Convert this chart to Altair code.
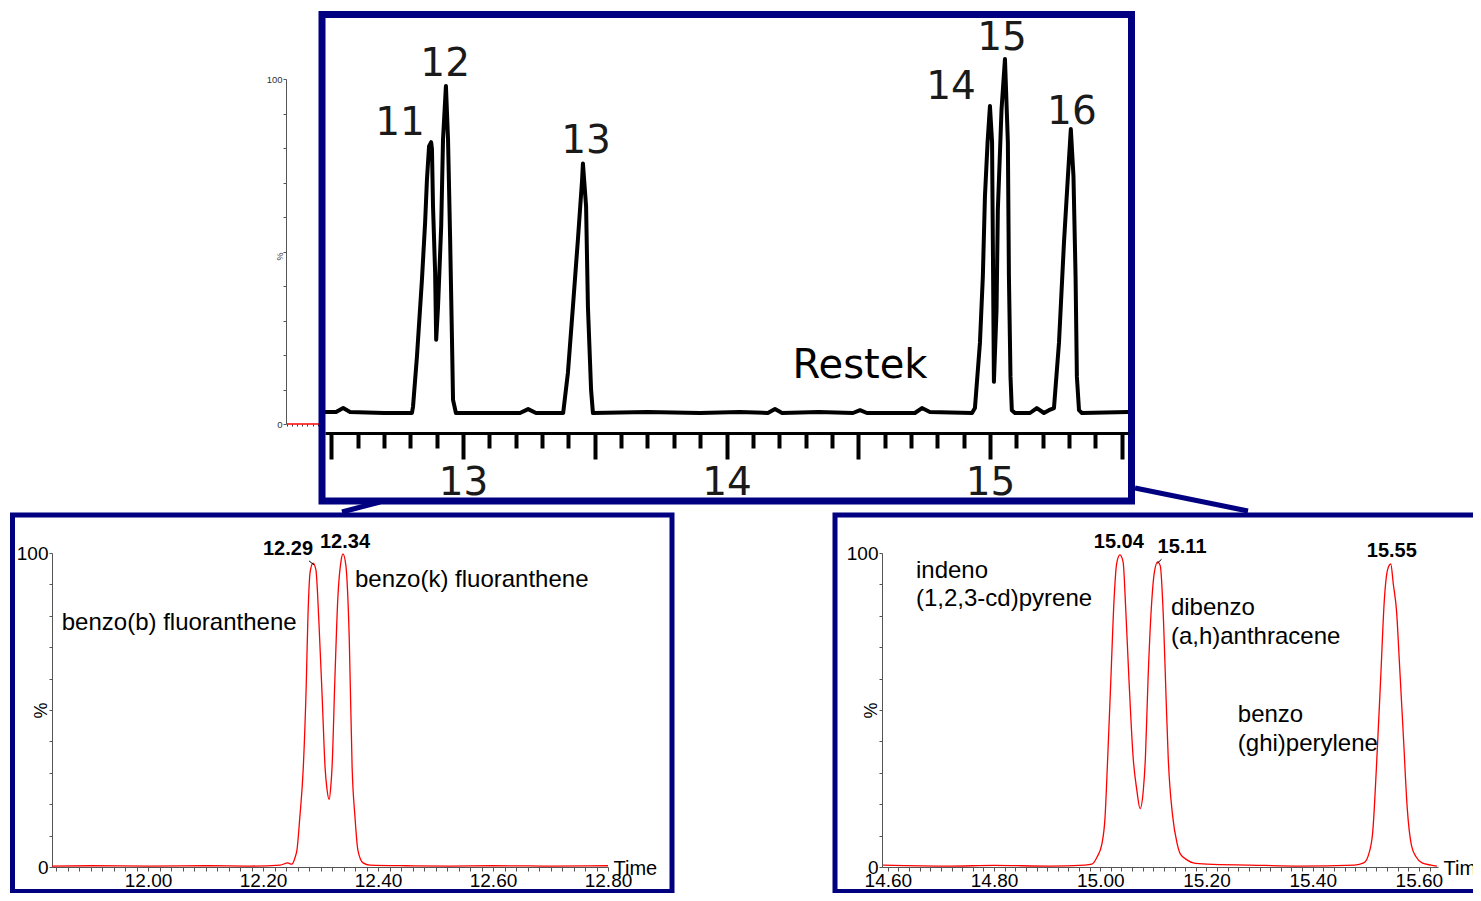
import altair as alt
import pandas as pd

NAVY = "#000080"
RED = "#ff0000"
W, H = 1465, 885

# ---------------- overview trace (top panel) ----------------
TOP_T = [12.476, 12.518, 12.545, 12.571, 12.700, 12.806, 12.810, 12.825, 12.844, 12.856,
         12.863, 12.871, 12.879, 12.882, 12.886, 12.894, 12.898, 12.905, 12.917, 12.924,
         12.935, 12.943, 12.951, 12.958, 12.962, 12.973, 13.100, 13.216, 13.247, 13.277,
         13.380, 13.398, 13.417, 13.436, 13.452, 13.455, 13.467, 13.474, 13.486, 13.493,
         13.700, 13.899, 14.050, 14.157, 14.184, 14.211, 14.350, 14.480, 14.507, 14.533,
         14.715, 14.742, 14.772, 14.932, 14.943, 14.962, 14.973, 14.981, 14.991, 15.000,
         15.008, 15.011, 15.015, 15.025, 15.030, 15.044, 15.057, 15.068, 15.072, 15.078,
         15.083, 15.095, 15.152, 15.178, 15.205, 15.224, 15.243, 15.262, 15.281, 15.296,
         15.307, 15.317, 15.325, 15.330, 15.338, 15.349, 15.524]
TOP_V = [0.3, 0.3, 1.4, 0.3, 0.0, 0.0, 1.7, 15.9, 37.7, 53.8,
         66.0, 75.4, 76.5, 74.5, 58.4, 39.7, 20.7, 30.0, 52.7, 77.3,
         92.4, 77.3, 49.0, 20.7, 3.7, 0.0, 0.0, 0.0, 1.1, 0.0,
         0.0, 11.3, 30.0, 49.0, 66.0, 70.5, 58.4, 30.0, 6.5, 0.0,
         0.3, 0.0, 0.3, 0.0, 1.1, 0.0, 0.3, 0.0, 0.8, 0.0,
         0.0, 1.4, 0.3, 0.0, 1.4, 19.8, 38.5, 61.2, 76.5, 86.7,
         76.5, 48.2, 8.8, 29.2, 57.5, 85.8, 100.0, 76.5, 38.5, 10.2,
         0.8, 0.0, 0.0, 1.4, 0.0, 0.8, 1.4, 19.8, 48.2, 66.9,
         80.2, 66.9, 38.5, 10.2, 0.8, 0.0, 0.3]
TOP_PEAK_NAMES = ["11", "12", "13", "14", "15", "16"]
TOP_PEAK_T = [12.761, 12.932, 13.467, 14.852, 15.046, 15.311]
TOP_PEAK_V = [82.0, 98.6, 76.8, 92.1, 106.0, 85.0]
TOP_BRAND = ["Restek"]
TOP_BRAND_T = [14.507]
TOP_BRAND_V = [13.3]
TOP_TICKS = [round(12.5 + 0.1 * i, 1) for i in range(31)]

# ---------------- zoomed trace 1 (bottom left) ----------------
LEFT_T = [11.833, 11.900, 12.003, 12.100, 12.177, 12.230, 12.243, 12.250, 12.256, 12.259,
          12.264, 12.270, 12.275, 12.278, 12.282, 12.287, 12.292, 12.297, 12.303, 12.308,
          12.311, 12.315, 12.318, 12.320, 12.325, 12.330, 12.336, 12.339, 12.344, 12.350,
          12.355, 12.360, 12.365, 12.374, 12.386, 12.450, 12.525, 12.600, 12.699, 12.800]
LEFT_V = [0.3, 0.4, 0.3, 0.4, 0.3, 0.6, 1.3, 0.9, 3.2, 5.4,
          15.8, 31.5, 56.8, 78.9, 94.0, 96.8, 94.6, 78.9, 53.6, 31.5,
          25.2, 21.5, 25.9, 31.5, 59.9, 85.2, 97.8, 99.7, 96.2, 72.6,
          31.5, 15.8, 5.4, 1.3, 0.6, 0.4, 0.3, 0.4, 0.3, 0.4]
LEFT_NAMES = ["benzo(b) fluoranthene", "benzo(k) fluoranthene"]
LEFT_NAMES_T = [11.850, 12.360]
LEFT_NAMES_V = [77.6, 91.5]
LEFT_RT = ["12.29", "12.34"]
LEFT_RT_T = [12.2435, 12.3426]
LEFT_RT_V = [101.3, 103.5]
LEFT_TICKS = [round(11.84 + 0.02 * i, 2) for i in range(49)]

# ---------------- zoomed trace 2 (bottom right) ----------------
RIGHT_T = [14.591, 14.717, 14.800, 14.905, 14.971, 14.984, 14.994, 15.003, 15.009, 15.014,
           15.020, 15.026, 15.031, 15.037, 15.043, 15.048, 15.054, 15.062, 15.069, 15.075,
           15.081, 15.085, 15.090, 15.096, 15.102, 15.108, 15.113, 15.119, 15.124, 15.128,
           15.136, 15.145, 15.151, 15.164, 15.175, 15.201, 15.282, 15.376, 15.479, 15.496,
           15.505, 15.513, 15.520, 15.528, 15.535, 15.541, 15.547, 15.552, 15.558, 15.563,
           15.571, 15.578, 15.586, 15.595, 15.606, 15.623, 15.634]
RIGHT_V = [0.6, 0.3, 0.5, 0.3, 0.6, 0.9, 3.2, 7.3, 15.8, 34.7,
           59.9, 85.2, 96.8, 99.4, 97.2, 82.0, 59.9, 34.7, 24.3, 18.6,
           24.3, 34.7, 59.9, 82.0, 94.0, 97.2, 95.9, 78.9, 53.6, 34.7,
           16.7, 7.3, 4.1, 2.2, 1.3, 0.9, 0.6, 0.3, 0.6, 1.3,
           3.8, 11.0, 31.5, 59.9, 85.2, 94.6, 96.5, 89.9, 81.4, 66.2,
           41.0, 18.9, 6.9, 3.2, 1.3, 0.6, 0.3]
RIGHT_NAMES = ["indeno", "(1,2,3-cd)pyrene", "dibenzo", "(a,h)anthracene", "benzo", "(ghi)perylene"]
RIGHT_NAMES_T = [14.653, 14.653, 15.133, 15.133, 15.259, 15.259]
RIGHT_NAMES_V = [94.3, 85.2, 82.6, 73.2, 48.3, 39.1]
RIGHT_RT = ["15.04", "15.11", "15.55"]
RIGHT_RT_T = [15.035, 15.154, 15.549]
RIGHT_RT_V = [103.5, 101.9, 100.6]
RIGHT_TICKS = [round(14.60 + 0.02 * i, 2) for i in range(52)]

# leader ticks from retention-time labels to apexes
LEADER_T = [12.280, 15.1154]
LEADER_V = [97.5, 98.0]
LEADER_T2 = [12.2887, 15.1071]
LEADER_V2 = [96.2, 96.7]

# ---------------- hidden chromatogram behind the overview ----------------
BG_T = [0.0, 1.0]
BG_V = [0.0, 0.0]
BG_X_TICKS = [round(0.1 * i, 1) for i in range(11)]

Y_TICKS = list(range(0, 101, 10))
FONT = "Liberation Sans"
ZOOM_BASE = 859   # pixel row of the zoom panels' time axis
ZOOM_TOP = 545    # pixel row of 100 % in the zoom panels

one = pd.DataFrame({"k": [0]})


def xy(xs, ys, xaxis=None, yaxis=None):
    return dict(x=alt.X("t:Q", scale=xs, axis=xaxis), y=alt.Y("v:Q", scale=ys, axis=yaxis))


def box(x, x2, y, y2, sw, fill, opacity):
    return alt.Chart(one).mark_rect(fill=fill, fillOpacity=opacity, stroke=NAVY,
                                    strokeWidth=sw).encode(
        x=alt.value(x), x2=alt.value(x2), y=alt.value(y), y2=alt.value(y2))


def link(x, y, x2, y2):
    return alt.Chart(one).mark_rule(color=NAVY, strokeWidth=5).encode(
        x=alt.value(x), y=alt.value(y), x2=alt.value(x2), y2=alt.value(y2))


def bottom_axis(ticks, title_x):
    return alt.Axis(
        orient="bottom", offset=ZOOM_BASE - H, values=ticks, grid=False,
        labelExpr="abs(datum.value*5 - round(datum.value*5)) < 0.001 ? format(datum.value, '.2f') : ''",
        tickSize=4, tickColor="#555555", tickWidth=1, domainColor="#555555", domainWidth=1,
        labelFont=FONT, labelFontSize=19, labelColor="black", labelPadding=0,
        labelFlush=False, labelOverlap=False,
        title="Time", titleX=title_x, titleY=1, titleAlign="left", titleBaseline="middle",
        titleFont=FONT, titleFontSize=20, titleFontWeight="normal", titleColor="black",
        zindex=0)


def side_axis(x_pos, title_y, lab_size, title_size, color, z):
    return alt.Axis(
        orient="left", offset=-x_pos, values=Y_TICKS, grid=False,
        labelExpr="datum.value == 0 || datum.value == 100 ? datum.label : ''",
        tickSize=3, tickColor="#555555", tickWidth=1, domainColor="#555555", domainWidth=1,
        labelFont=FONT, labelFontSize=lab_size, labelColor=color, labelPadding=1,
        labelOverlap=False,
        title="%", titleX=-2, titleY=title_y, titleAngle=270, titleAlign="center",
        titleBaseline="bottom", titleFont=FONT, titleFontSize=title_size,
        titleFontWeight="normal", titleColor=color, zindex=z)


def text_layer(ts, vs, labels, xs, ys, **style):
    df = pd.DataFrame({"t": ts, "v": vs, "s": labels})
    return alt.Chart(df).mark_text(**style).encode(text="s:N", **xy(xs, ys))


def leader_layer(i0, i1, xs, ys):
    df = pd.DataFrame({"t": LEADER_T[i0:i1], "v": LEADER_V[i0:i1],
                       "t2": LEADER_T2[i0:i1], "v2": LEADER_V2[i0:i1]})
    return alt.Chart(df).mark_rule(color="black", strokeWidth=1).encode(
        x2="t2:Q", y2="v2:Q", **xy(xs, ys))


# ---------------- hidden panel ----------------
bg_xs = alt.Scale(domain=[0, 1], range=[279, 330], nice=False, zero=False)
bg_ys = alt.Scale(domain=[0, 100], range=[416, 71], nice=False, zero=False)
bg_xaxis = alt.Axis(orient="bottom", offset=416 - H, values=BG_X_TICKS, labels=False,
                    domain=False, tickSize=2, tickColor="#333333", title=None, grid=False,
                    zindex=0)
bg = alt.Chart(pd.DataFrame({"t": BG_T, "v": BG_V})).mark_line(
    color=RED, strokeWidth=1.5).encode(
    **xy(bg_xs, bg_ys, bg_xaxis, side_axis(278, 248, 9.5, 9, "#333333", 0)))

# ---------------- overview panel ----------------
top_xs = alt.Scale(domain=[12.476, 15.524], range=[317, 1120], nice=False, zero=False)
top_ys = alt.Scale(domain=[0, 100], range=[405, 51], nice=False, zero=False)
top_xaxis = alt.Axis(
    orient="bottom", offset=425 - H, values=TOP_TICKS, title=None, grid=False,
    labelExpr="abs(datum.value - round(datum.value)) < 0.001 ? format(datum.value, 'd') : ''",
    tickSize={"condition": {"test": "abs(datum.value*2 - round(datum.value*2)) < 0.001",
                            "value": 26}, "value": 15},
    tickWidth=4, tickColor="black", domainColor="black", domainWidth=3,
    labelFont="DejaVu Sans", labelFontSize=39, labelColor="#1a1a1a", labelPadding=4,
    labelFlush=False, labelOverlap=False, zindex=1)

top_frame = box(314, 1123.5, 6.5, 493, 7, "white", 1)
top_line = alt.Chart(pd.DataFrame({"t": TOP_T, "v": TOP_V})).mark_line(
    color="black", strokeWidth=4, strokeJoin="round").encode(
    **xy(top_xs, top_ys, top_xaxis, None))
top_peaks = text_layer(TOP_PEAK_T, TOP_PEAK_V, TOP_PEAK_NAMES, top_xs, top_ys,
                       font="DejaVu Sans", fontSize=39, color="#1a1a1a", align="center",
                       baseline="middle")
top_brand = text_layer(TOP_BRAND_T, TOP_BRAND_V, TOP_BRAND, top_xs, top_ys,
                       font="DejaVu Sans", fontSize=40, color="black", align="center",
                       baseline="middle")

# ---------------- zoom panel: left ----------------
l_xs = alt.Scale(domain=[11.833, 12.800], range=[44, 600], nice=False, zero=False)
l_ys = alt.Scale(domain=[0, 100], range=[ZOOM_BASE, ZOOM_TOP], nice=False, zero=False)
left_frame = box(4.5, 664, 507, 883.5, 5, "white", 0)
left_line = alt.Chart(pd.DataFrame({"t": LEFT_T, "v": LEFT_V})).mark_line(
    color=RED, strokeWidth=1.3, interpolate="monotone").encode(
    **xy(l_xs, l_ys, bottom_axis(LEFT_TICKS, 605), side_axis(44, 702, 19, 18, "black", 0)))
left_names = text_layer(LEFT_NAMES_T, LEFT_NAMES_V, LEFT_NAMES, l_xs, l_ys,
                        font=FONT, fontSize=24, color="black", align="left", baseline="middle")
left_rt = text_layer(LEFT_RT_T, LEFT_RT_V, LEFT_RT, l_xs, l_ys, font=FONT, fontSize=20,
                     fontWeight="bold", color="black", align="center", baseline="middle")

# ---------------- zoom panel: right ----------------
r_xs = alt.Scale(domain=[14.589, 15.636], range=[874, 1430], nice=False, zero=False)
r_ys = alt.Scale(domain=[0, 100], range=[ZOOM_BASE, ZOOM_TOP], nice=False, zero=False)
right_frame = box(827, 1495, 507, 883.5, 5, "white", 0)
right_line = alt.Chart(pd.DataFrame({"t": RIGHT_T, "v": RIGHT_V})).mark_line(
    color=RED, strokeWidth=1.3, interpolate="monotone").encode(
    **xy(r_xs, r_ys, bottom_axis(RIGHT_TICKS, 1435), side_axis(874, 702, 19, 18, "black", 0)))
right_names = text_layer(RIGHT_NAMES_T, RIGHT_NAMES_V, RIGHT_NAMES, r_xs, r_ys,
                         font=FONT, fontSize=24, color="black", align="left", baseline="middle")
right_rt = text_layer(RIGHT_RT_T, RIGHT_RT_V, RIGHT_RT, r_xs, r_ys, font=FONT, fontSize=20,
                      fontWeight="bold", color="black", align="center", baseline="middle")

chart = alt.layer(
    bg,
    top_frame, top_line, top_peaks, top_brand,
    link(372, 494, 334, 504), link(1127, 480, 1240, 503),
    left_frame, left_line, left_names, left_rt, leader_layer(0, 1, l_xs, l_ys),
    right_frame, right_line, right_names, right_rt, leader_layer(1, 2, r_xs, r_ys),
).resolve_scale(x="independent", y="independent").resolve_axis(
    x="independent", y="independent").properties(
    width=W, height=H, autosize=alt.AutoSizeParams(type="none"), padding=0,
    background="white").configure_view(strokeWidth=0)

chart.save("out.html", embed_options={"renderer": "svg", "actions": False})
